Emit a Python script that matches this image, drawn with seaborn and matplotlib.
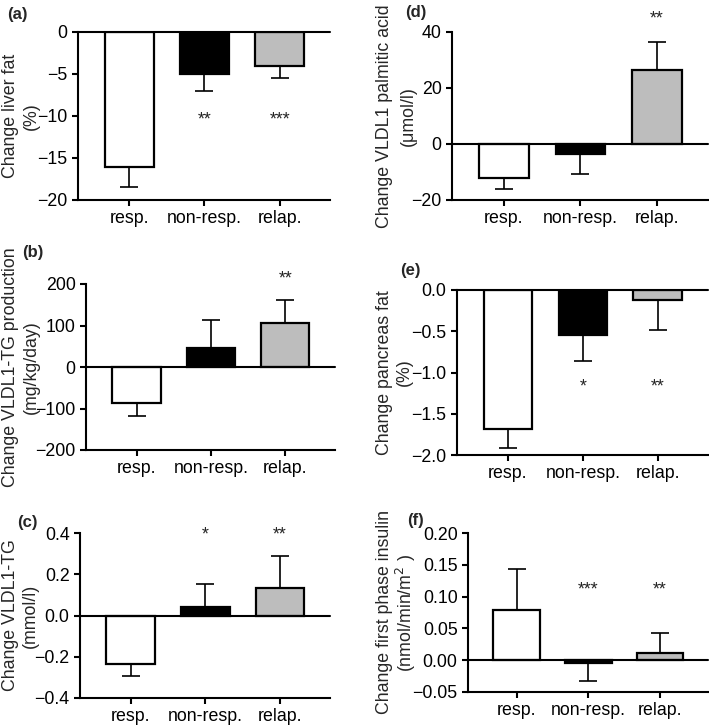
import numpy as np
import pandas as pd
import matplotlib
matplotlib.use("Agg")
import matplotlib.pyplot as plt
import seaborn as sns

groups = ["resp.", "non-resp.", "relap."]
bar_colors = ["white", "black", "#bdbdbd"]

# mean change and SEM per group
liver_fat = [-16.1, -5.0, -4.1]
liver_fat_sem = [2.3, 2.0, 1.4]
liver_fat_stars = ["", "**", "***"]

vldl_prod = [-87, 46, 107]
vldl_prod_sem = [31, 67, 54]
vldl_prod_stars = ["", "", "**"]

vldl_tg = [-0.236, 0.040, 0.131]
vldl_tg_sem = [0.055, 0.112, 0.159]
vldl_tg_stars = ["", "*", "**"]

palmitic = [-12.3, -3.5, 26.5]
palmitic_sem = [3.7, 7.3, 9.8]
palmitic_stars = ["", "", "**"]

pancreas_fat = [-1.68, -0.54, -0.12]
pancreas_fat_sem = [0.23, 0.32, 0.36]
pancreas_fat_stars = ["", "*", "**"]

insulin = [0.079, -0.005, 0.012]
insulin_sem = [0.064, 0.027, 0.030]
insulin_stars = ["", "***", "**"]

sns.set_style("ticks")
plt.rcParams["font.family"] = ["Liberation Sans", "DejaVu Sans"]
plt.rcParams["font.size"] = 12.5
plt.rcParams["axes.linewidth"] = 1.5
plt.rcParams["xtick.major.width"] = 1.5
plt.rcParams["ytick.major.width"] = 1.5
plt.rcParams["xtick.major.size"] = 4
plt.rcParams["ytick.major.size"] = 4
plt.rcParams["axes.edgecolor"] = "black"

FS = 12.8
W, H = 709, 725
fig = plt.figure(figsize=(W / 100, H / 100), dpi=100)


def panel(box, vals, sem, stars, star_y, ylim, yticks, fmt, ylabel, label_x, letter, letter_xy):
    l, r, t, b = box
    ax = fig.add_axes([l / W, 1 - b / H, (r - l) / W, (b - t) / H])
    df = pd.DataFrame({"group": groups, "value": vals})
    sns.barplot(data=df, x="group", y="value", hue="group", palette=bar_colors,
                edgecolor="black", linewidth=1.6, width=0.65, legend=False,
                errorbar=None, ax=ax)
    vals = np.array(vals)
    sem = np.array(sem)
    lower = np.where(vals < 0, sem, 0)
    upper = np.where(vals >= 0, sem, 0)
    ax.errorbar(np.arange(3), vals, yerr=[lower, upper], fmt="none",
                ecolor="black", elinewidth=1.2, capsize=6.5, capthick=1.2, zorder=1)
    ax.axhline(0, color="black", lw=1.5, clip_on=False, zorder=3)
    for i, s in enumerate(stars):
        if s:
            ax.annotate(s, (i, star_y), xytext=(0, -3), textcoords="offset points",
                        ha="center", va="center", fontsize=FS, annotation_clip=False)
    ax.set_xlim(-0.68, 2.67)
    ax.set_ylim(*ylim)
    ax.set_yticks(yticks)
    ax.set_yticklabels([fmt.format(v).replace("-", "\u2212") for v in yticks])
    ax.tick_params(labelsize=FS, colors="black")
    ax.set_xlabel("")
    ax.set_ylabel("")
    sns.despine(ax=ax)
    # two-line y label, one text per line
    yc = 1 - ((t + b) / 2) / H
    for line, x in zip(ylabel, label_x):
        fig.text(x / W, yc, line, rotation=90, ha="center", va="center", fontsize=FS)
    fig.text(letter_xy[0] / W, 1 - letter_xy[1] / H, letter, fontsize=12,
             fontweight="bold", ha="left", va="center")
    return ax


panel((78, 330, 32, 200), liver_fat, liver_fat_sem, liver_fat_stars, -10.0,
      (-20, 0), [-20, -15, -10, -5, 0], "{:.0f}",
      ["Change liver fat", "(%)"], [11, 31], "(a)", (7, 15))

panel((86, 335, 284, 450), vldl_prod, vldl_prod_sem, vldl_prod_stars, 222,
      (-200, 200), [-200, -100, 0, 100, 200], "{:.0f}",
      ["Change VLDL1-TG production", "(mg/kg/day)"], [11, 31], "(b)", (22, 253))

panel((80, 330, 533, 698), vldl_tg, vldl_tg_sem, vldl_tg_stars, 0.41,
      (-0.4, 0.4), [-0.4, -0.2, 0.0, 0.2, 0.4], "{:.1f}",
      ["Change VLDL1-TG", "(mmol/l)"], [11, 30], "(c)", (17, 522))

panel((452, 708, 32, 200), palmitic, palmitic_sem, palmitic_stars, 46,
      (-20, 40), [-20, 0, 20, 40], "{:.0f}",
      ["Change VLDL1 palmitic acid", "(\u03bcmol/l)"], [384, 408], "(d)", (405, 12))

panel((457, 708, 290, 455), pancreas_fat, pancreas_fat_sem, pancreas_fat_stars, -1.12,
      (-2.0, 0.0), [-2.0, -1.5, -1.0, -0.5, 0.0], "{:.1f}",
      ["Change pancreas fat", "(%)"], [384, 404], "(e)", (400, 270))

panel((468, 708, 533, 692), insulin, insulin_sem, insulin_stars, 0.117,
      (-0.05, 0.20), [-0.05, 0.0, 0.05, 0.10, 0.15, 0.20], "{:.2f}",
      ["Change first phase insulin", "(nmol/min/m$^2$ )"], [384, 406], "(f)", (407, 520))

fig.savefig("out.png", dpi=100, facecolor="white")
